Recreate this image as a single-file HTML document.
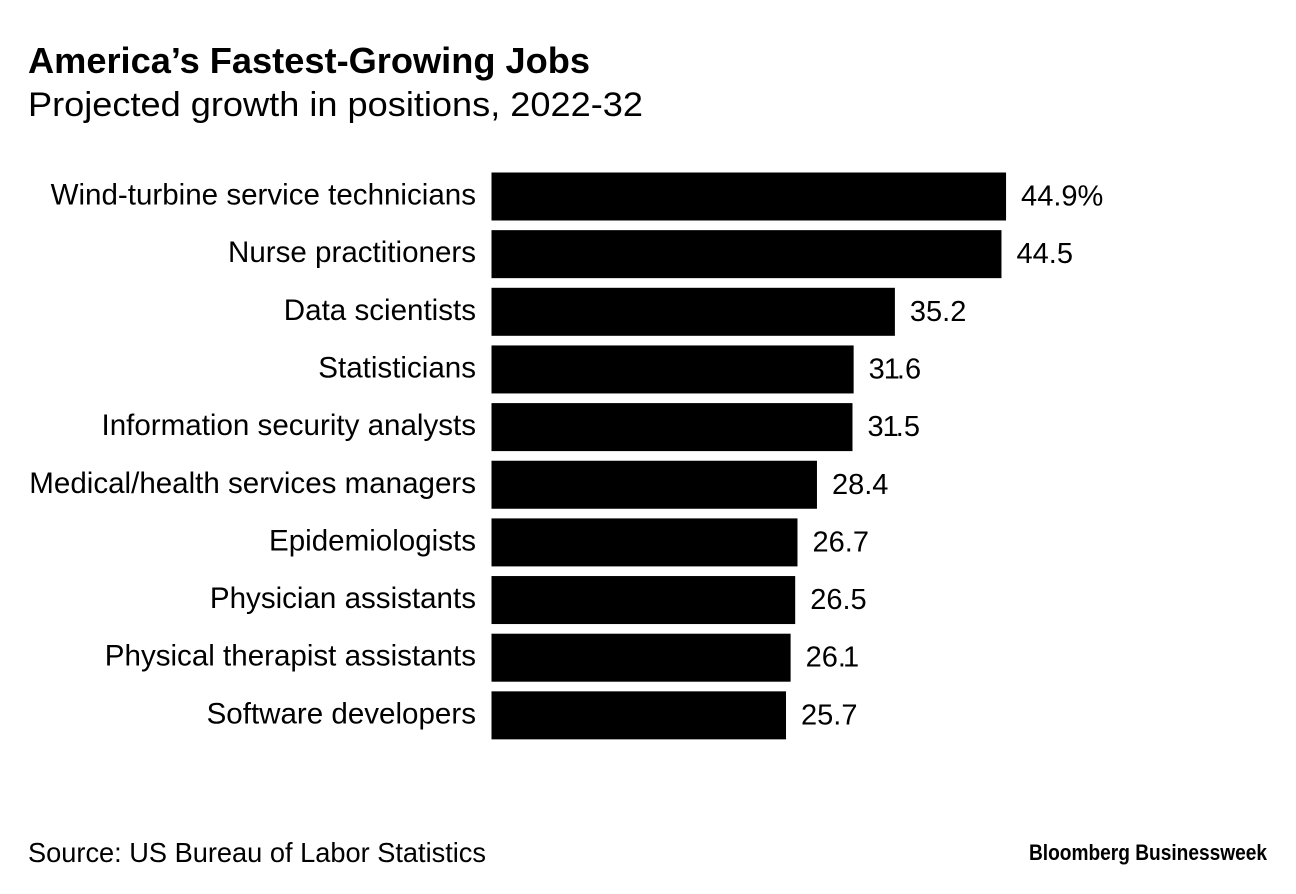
<!DOCTYPE html>
<html lang="en">
<head>
<meta charset="utf-8">
<title>America's Fastest-Growing Jobs</title>
<style>
html,body{margin:0;padding:0;background:#fff}
svg{display:block}
text{font-family:"Liberation Sans",Arial,sans-serif;fill:#000}
</style>
</head>
<body>
<svg id="chart" width="1296" height="894" viewBox="0 0 1296 894" xmlns="http://www.w3.org/2000/svg">
<rect x="0" y="0" width="1296" height="894" fill="#fff"/>
<text x="28" y="73" font-size="36" font-weight="700" textLength="562" lengthAdjust="spacingAndGlyphs">America’s Fastest-Growing Jobs</text>
<text x="28" y="116" font-size="34.5" textLength="615" lengthAdjust="spacingAndGlyphs">Projected growth in positions, 2022-32</text>
<g id="bars"></g>
<text x="28" y="862" font-size="28" textLength="458" lengthAdjust="spacingAndGlyphs">Source: US Bureau of Labor Statistics</text>
<text x="1029" y="860" font-size="22" font-weight="700" textLength="238" lengthAdjust="spacingAndGlyphs">Bloomberg Businessweek</text>
</svg>
<script>
const categories = ["Wind-turbine service technicians","Nurse practitioners","Data scientists","Statisticians","Information security analysts","Medical/health services managers","Epidemiologists","Physician assistants","Physical therapist assistants","Software developers"];
const growth = [44.9,44.5,35.2,31.6,31.5,28.4,26.7,26.5,26.1,25.7];
const printedValues = ["44.9%","44.5","35.2","31.6","31.5","28.4","26.7","26.5","26.1","25.7"];

const NS = "http://www.w3.org/2000/svg";
const group = document.getElementById("bars");
const x0 = 491.5;
const pxPerUnit = 11.46;
const y0 = 172.5;
const step = 57.65;
const barH = 48;
function xScale(v){ return x0 + v * pxPerUnit; }
function yScale(i){ return y0 + i * step; }
// The reference face sets the digit 1 narrowly, so tighten around it
function digitKerning(s){
  const dx = [];
  for (let k = 0; k < s.length; k++) {
    let shift = 0;
    if (k > 0 && s[k] === "1") shift = (k === s.length - 1) ? -3 : -1;
    if (k > 0 && s[k - 1] === "1") shift = -3;
    dx.push(shift);
  }
  return dx.join(" ");
}

categories.forEach(function(cat, i){
  const v = growth[i];
  const y = yScale(i);

  const label = document.createElementNS(NS, "text");
  
  
  label.setAttribute("x", 476);
  label.setAttribute("y", y + 32);
  label.setAttribute("font-size", 30);
  label.setAttribute("text-anchor", "end");
  label.textContent = cat;
  group.appendChild(label);
  label.setAttribute("textLength", (label.getComputedTextLength() * 0.985).toFixed(1));
  label.setAttribute("lengthAdjust", "spacingAndGlyphs");

  const bar = document.createElementNS(NS, "rect");
  
  
  bar.setAttribute("x", xScale(0));
  bar.setAttribute("y", y);
  bar.setAttribute("width", xScale(v) - xScale(0));
  bar.setAttribute("height", barH);
  bar.setAttribute("fill", "#000");
  group.appendChild(bar);

  const val = document.createElementNS(NS, "text");
  
  
  val.setAttribute("x", xScale(v) + 15);
  val.setAttribute("y", y + 33);
  val.setAttribute("font-size", 29);
  val.setAttribute("dx", digitKerning(printedValues[i]));
  val.textContent = printedValues[i];
  group.appendChild(val);
});
</script>
</body>
</html>
